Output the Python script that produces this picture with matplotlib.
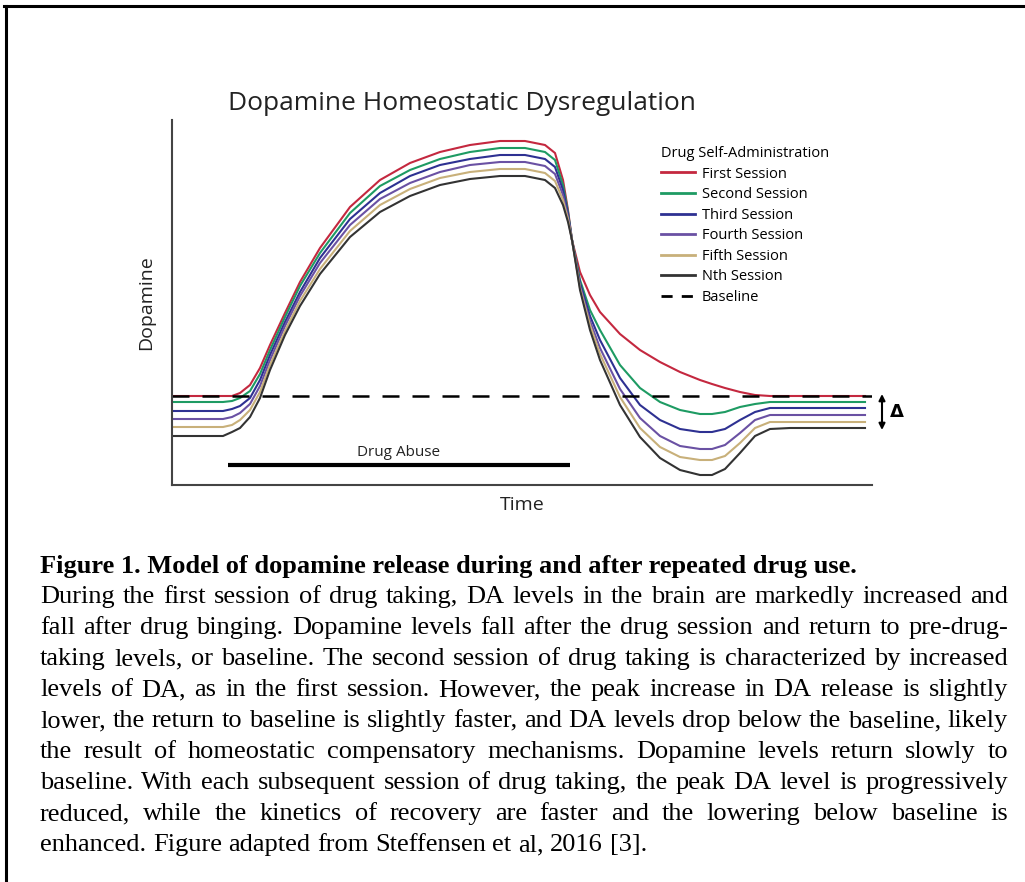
import matplotlib
matplotlib.use("Agg")
import matplotlib.pyplot as plt
from matplotlib.lines import Line2D

W, H = 1025, 882

# time (arbitrary units) shared by all sessions
time = [0, 51, 60, 68, 78, 88, 98, 113, 128, 148, 178, 208, 238, 268, 298, 328, 353,
        373, 383, 391, 396, 400, 408, 418, 428, 448, 468, 488, 508, 528, 540, 553,
        568, 583, 598, 618, 693]

first = [91, 91, 91, 94, 102, 119, 142, 174, 205, 239, 280, 307, 324, 335, 342, 346, 346,
         342, 334, 307, 277, 247, 215, 192, 175, 153, 137, 125, 115, 107, 103, 99,
         95, 92, 91, 91, 91]
second = [85, 85, 86, 89, 96, 113, 137, 170, 201, 234, 274, 301, 317, 328, 335, 339, 339,
          335, 327, 302, 275, 247, 207, 177, 157, 122, 99, 85, 77, 73, 73, 75,
          80, 83, 85, 85, 85]
third = [76, 76, 78, 81, 89, 107, 132, 165, 195, 229, 268, 294, 311, 322, 328, 332, 332,
         328, 320, 297, 273, 247, 204, 171, 147, 109, 82, 67, 58, 55, 55, 58,
         67, 75, 79, 79, 79]
fourth = [68, 68, 70, 74, 83, 101, 127, 161, 191, 224, 262, 288, 304, 315, 322, 325, 325,
          321, 313, 292, 270, 247, 201, 166, 139, 98, 69, 51, 41, 38, 38, 42,
          54, 67, 72, 72, 72]
fifth = [60, 60, 62, 67, 77, 95, 122, 156, 186, 218, 256, 282, 298, 309, 315, 318, 318,
         314, 306, 287, 268, 247, 199, 162, 133, 90, 59, 40, 30, 27, 27, 31,
         44, 59, 65, 65, 65]
nth = [51, 51, 55, 59, 70, 89, 117, 152, 181, 213, 250, 275, 291, 302, 308, 311, 311,
       307, 299, 282, 265, 247, 197, 157, 127, 82, 50, 29, 17, 12, 12, 18,
       34, 51, 58, 59, 59]

sessions = [first, second, third, fourth, fifth, nth]
labels = ["First Session", "Second Session", "Third Session", "Fourth Session",
          "Fifth Session", "Nth Session"]
colors = ["#c4283f", "#1e9b63", "#2e3192", "#6a51a3", "#c8b07a", "#333333"]

baseline = 91
drug_start, drug_end = 56, 398

caption_title = "Figure 1. Model of dopamine release during and after repeated drug use."
caption_lines = [
    "During the first session of drug taking, DA levels in the brain are markedly increased and",
    "fall after drug binging. Dopamine levels fall after the drug session and return to pre-drug-",
    "taking levels, or baseline. The second session of drug taking is characterized by increased",
    "levels of DA, as in the first session. However, the peak increase in DA release is slightly",
    "lower, the return to baseline is slightly faster, and DA levels drop below the baseline, likely",
    "the result of homeostatic compensatory mechanisms. Dopamine levels return slowly to",
    "baseline. With each subsequent session of drug taking, the peak DA level is progressively",
    "reduced, while the kinetics of recovery are faster and the lowering below baseline is",
    "enhanced. Figure adapted from Steffensen et al, 2016 [3].",
]

plt.rcParams['font.family'] = ['Open Sans', 'DejaVu Sans']

fig = plt.figure(figsize=(W / 100, H / 100), dpi=100)
ax = fig.add_axes([172 / W, (H - 485) / H, 700 / W, 365 / H])

for vals, lab, col in zip(sessions, labels, colors):
    ax.plot(time, vals, color=col, lw=1.5, label=lab, solid_joinstyle='round')
ax.plot([0, 700], [baseline, baseline], color='black', lw=1.8,
        linestyle=(0, (6.8, 5.2)), label='Baseline')

ax.plot([drug_start, drug_end], [22, 22], color='black', lw=3, solid_capstyle='butt')
ax.text((drug_start + drug_end) / 2, 35, "Drug Abuse", ha='center', va='center',
        fontsize=11, color='#222222')

ax.set_xlim(0, 700)
ax.set_ylim(2, 367)
ax.set_xticks([])
ax.set_yticks([])
for s in ['top', 'right']:
    ax.spines[s].set_visible(False)
for s in ['left', 'bottom']:
    ax.spines[s].set_color('#444444')
    ax.spines[s].set_linewidth(1.5)

# delta arrow beside the plateaus
ax.annotate("", xy=(710, 57), xytext=(710, 93),
            arrowprops=dict(arrowstyle='<|-|>', color='black', lw=1.5,
                            mutation_scale=9, shrinkA=0, shrinkB=0),
            annotation_clip=False)
ax.text(718, 75, "Δ", fontsize=13, fontweight='bold', family='DejaVu Sans',
        ha='left', va='center', clip_on=False)

ax.set_ylabel("Dopamine", fontsize=14, labelpad=12, color='#222222')
ax.set_xlabel("Time", fontsize=14, labelpad=8, color='#222222')

fig.text(228 / W, 1 - 104 / H, "Dopamine Homeostatic Dysregulation", fontsize=19,
         ha='left', va='center', color='#222222')

handles, labs = ax.get_legend_handles_labels()
leg = fig.legend(handles, labs, loc='upper left', bbox_to_anchor=(661 / W, 1 - 146 / H),
                 frameon=False, title="Drug Self-Administration", fontsize=10.5,
                 title_fontsize=10.5, handlelength=2.3, handletextpad=0.5,
                 labelspacing=0.38, borderpad=0, borderaxespad=0, alignment='left')
for line in leg.get_lines():
    line.set_linewidth(2)
leg.get_lines()[-1].set_linestyle((0, (4, 3.3)))

# frame lines of the page
fig.add_artist(Line2D([4 / W, 1], [1 - 6 / H, 1 - 6 / H], color='black', lw=2.2))
fig.add_artist(Line2D([6 / W, 6 / W], [0, 1 - 6 / H], color='black', lw=2.2))

# caption, justified
serif = 'Liberation Serif'
left, right = 40, 1008
fig.text(40 / W, 1 - 567 / H, caption_title, fontsize=19, fontweight='bold',
         family=serif, ha='left', va='center')

renderer = fig.canvas.get_renderer()
y = 597
for i, line in enumerate(caption_lines):
    words = line.split()
    texts = [fig.text(0, 1 - y / H, w, fontsize=19, family=serif, ha='left', va='center')
             for w in words]
    widths = [t.get_window_extent(renderer).width for t in texts]
    if i == len(caption_lines) - 1:
        gap = 0.25 * 19 * 100 / 72
    else:
        gap = (right - left - sum(widths)) / (len(words) - 1)
    x = left
    for t, wd in zip(texts, widths):
        t.set_x(x / W)
        x += wd + gap
    y += 31

fig.savefig("out.png", dpi=100)
